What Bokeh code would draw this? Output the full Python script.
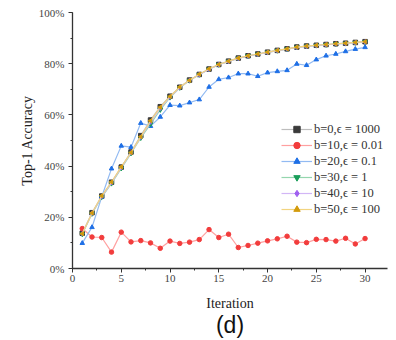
from bokeh.plotting import figure
from bokeh.models import Range1d, SingleIntervalTicker, FixedTicker, Legend, LegendItem, LinearAxis, CustomJSTickFormatter
from bokeh.embed import file_html
from bokeh.resources import INLINE

iterations = list(range(1, 31))

acc_b0 = [13.8, 21.8, 28.3, 33.7, 39.6, 45.5, 51.9, 58.0, 63.2, 67.3, 70.8, 73.6, 75.8, 77.9, 79.7,
          81.0, 82.2, 83.1, 83.8, 84.5, 85.2, 85.8, 86.5, 86.9, 87.2, 87.5, 87.8, 88.0, 88.3, 88.6]
acc_b10 = [15.6, 12.3, 12.1, 6.4, 14.2, 10.4, 10.9, 10.0, 7.9, 10.7, 9.8, 10.3, 11.3, 15.2, 12.1,
           13.4, 8.2, 9.0, 9.9, 10.8, 11.6, 12.6, 10.3, 10.1, 11.4, 11.3, 10.7, 11.8, 9.6, 11.7]
acc_b20 = [9.9, 16.1, 28.0, 39.0, 47.9, 47.4, 56.8, 55.6, 59.2, 63.8, 63.6, 64.8, 66.0, 70.9, 73.9,
           74.6, 76.1, 76.1, 75.1, 76.5, 77.0, 77.4, 79.9, 79.4, 81.6, 83.1, 83.8, 84.8, 85.7, 86.4]
acc_b30 = [13.4, 21.4, 27.9, 33.2, 39.1, 45.0, 51.0, 56.4, 62.0, 66.8, 70.6, 73.4, 75.7, 77.8, 79.6,
           80.9, 82.1, 83.0, 83.7, 84.4, 85.1, 85.7, 86.4, 86.8, 87.1, 87.4, 87.7, 87.9, 88.2, 88.5]
acc_b40 = [13.6, 21.6, 28.1, 33.5, 39.4, 45.2, 51.3, 57.2, 62.6, 67.0, 70.7, 73.5, 75.7, 77.8, 79.6,
           80.9, 82.1, 83.0, 83.7, 84.4, 85.1, 85.7, 86.4, 86.8, 87.1, 87.4, 87.7, 87.9, 88.2, 88.5]
acc_b50 = [13.6, 21.7, 28.4, 33.8, 39.7, 45.3, 51.5, 57.7, 63.0, 67.2, 70.9, 73.5, 75.9, 78.0, 79.7,
           81.0, 82.2, 83.1, 83.8, 84.5, 85.2, 85.8, 86.5, 86.9, 87.2, 87.5, 87.8, 88.0, 88.3, 88.6]

labels = ["b=0,\u03f5 = 1000", "b=10,\u03f5 = 0.01", "b=20,\u03f5 = 0.1",
          "b=30,\u03f5 = 1", "b=40,\u03f5 = 10", "b=50,\u03f5 = 100"]
series = [acc_b0, acc_b10, acc_b20, acc_b30, acc_b40, acc_b50]
marker_colors = ["#3a3a3a", "#f23c3c", "#1e6fe6", "#1a9e5a", "#a060f0", "#d39b0c"]
line_colors = ["#bdbdbd", "#ffa0a0", "#92baf2", "#94d6ae", "#d2b6f6", "#f2d480"]
markers = ["square", "circle", "triangle", "inverted_triangle", "diamond", "triangle"]
marker_sizes = [4.5, 4.5, 4.5, 4.5, 4.5, 4]
marker_angles = [0, 0, 0, 0, 0, 1.5708]

SERIF = "Liberation Serif"

p = figure(width=396, height=340, output_backend="svg", toolbar_location=None,
           x_range=Range1d(0, 32.3), y_range=Range1d(0, 100),
           min_border_left=72, min_border_right=9, min_border_top=12, min_border_bottom=70)
p.outline_line_color = None
p.grid.visible = False
p.background_fill_color = "white"
p.border_fill_color = "white"

items = []
for ys, lab, mc, lc, mk, ms, ang in zip(series, labels, marker_colors, line_colors, markers, marker_sizes, marker_angles):
    ln = p.line(iterations, ys, line_color=lc, line_width=1.2)
    sc = p.scatter(iterations, ys, marker=mk, size=ms, fill_color=mc, line_color=mc, angle=ang)
    items.append(LegendItem(label=lab, renderers=[ln, sc]))

legend = Legend(items=items, location=(209, 51), padding=0, margin=0, spacing=0,
                glyph_width=31, glyph_height=16, label_height=16, label_standoff=2,
                label_text_font=SERIF, label_text_font_size="12.5px", label_text_color="#333333",
                border_line_color=None, background_fill_alpha=0)
p.add_layout(legend, "center")

for ax in (p.xaxis[0], p.yaxis[0]):
    ax.axis_line_color = "#333333"
    ax.axis_line_width = 1.3
    ax.major_tick_line_color = "#333333"
    ax.minor_tick_line_color = "#333333"
    ax.major_tick_out = 4
    ax.major_tick_in = 0
    ax.minor_tick_out = 2
    ax.minor_tick_in = 0
    ax.major_label_text_font = SERIF
    ax.major_label_text_font_size = "11px"
    ax.major_label_text_color = "#444444"
    ax.axis_label_text_font = SERIF
    ax.axis_label_text_font_size = "14px"
    ax.axis_label_text_font_style = "normal"
    ax.axis_label_text_color = "#222222"

p.xaxis.ticker = SingleIntervalTicker(interval=5, num_minor_ticks=2)
p.yaxis.ticker = SingleIntervalTicker(interval=20, num_minor_ticks=2)
p.yaxis.formatter = CustomJSTickFormatter(code="return tick.toFixed(0) + '%';")
p.xaxis.axis_label = "Iteration"
p.yaxis.axis_label = "Top-1 Accuracy"
p.xaxis.major_label_standoff = 2
p.yaxis.major_label_standoff = 4
p.xaxis.axis_label_standoff = 11
p.yaxis.axis_label_standoff = 1

# panel caption "(d)" as a bare axis label underneath
cap = LinearAxis(axis_label="(d)", axis_line_color=None, major_tick_line_color=None,
                 minor_tick_line_color=None, major_label_standoff=0, axis_label_standoff=-2,
                 major_tick_out=0, minor_tick_out=0,
                 axis_label_text_font="Liberation Sans", axis_label_text_font_size="23px",
                 axis_label_text_font_style="normal", axis_label_text_color="#111111")
cap.ticker = FixedTicker(ticks=[])
p.add_layout(cap, "below")

open("out.html", "w").write(file_html(p, INLINE))
